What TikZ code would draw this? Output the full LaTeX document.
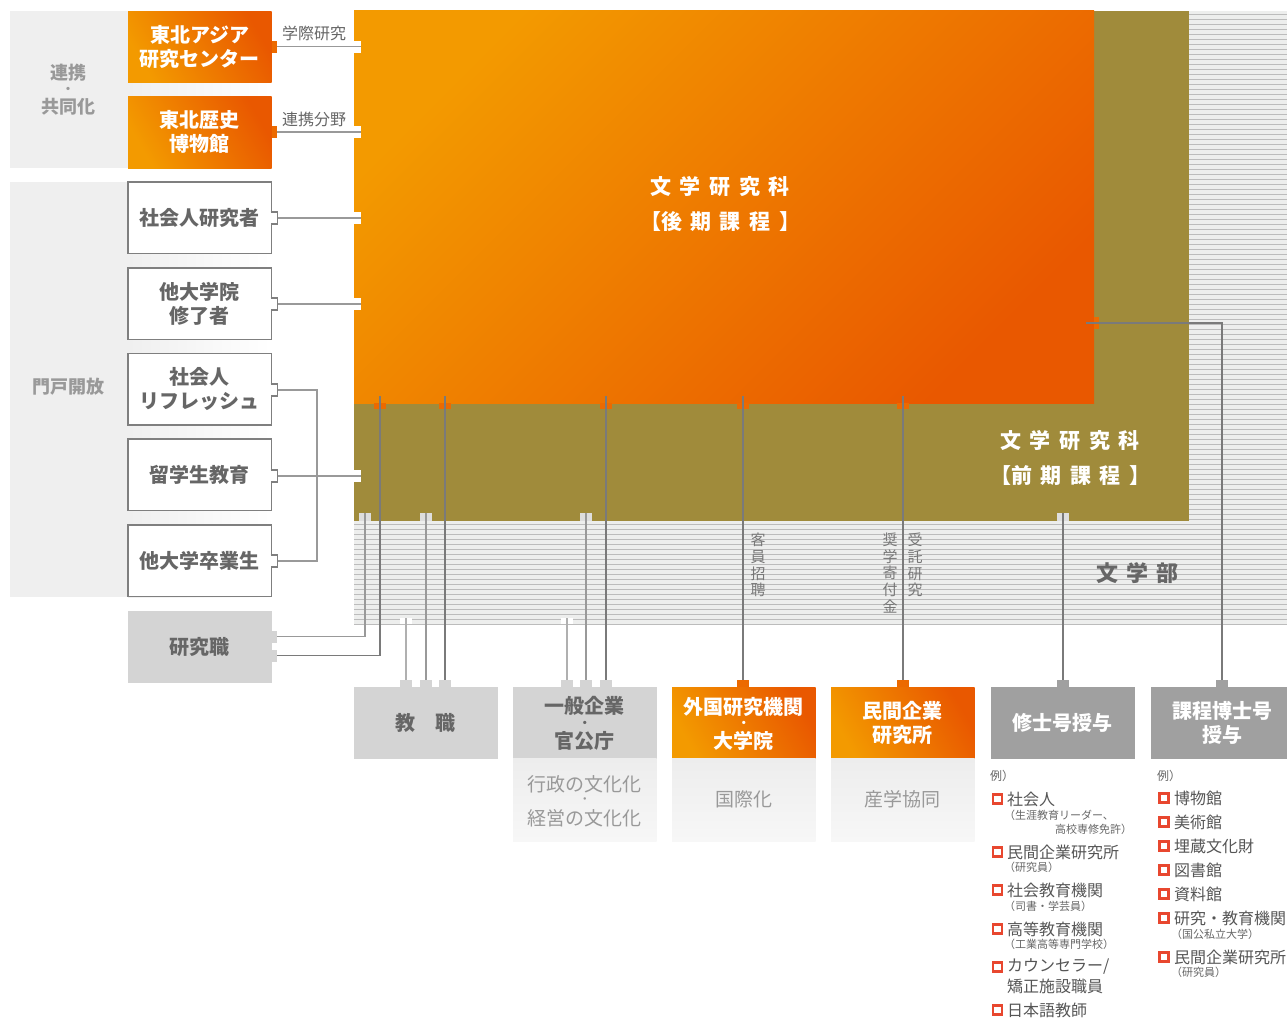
\documentclass[tikz,border=0pt]{standalone}
\usepackage{fontspec}
\setmainfont{Noto Sans CJK JP}
\usetikzlibrary{calc}
\definecolor{ogA}{HTML}{F39A00}
\definecolor{ogB}{HTML}{E95800}
\definecolor{ogT}{HTML}{EC6A00}
\definecolor{olv}{HTML}{A08B3B}
\definecolor{pnl}{HTML}{EFEFEF}
\definecolor{stbg}{HTML}{EDEEED}
\definecolor{stln}{HTML}{BCBCBC}
\definecolor{tdark}{HTML}{666666}
\definecolor{tmid}{HTML}{777777}
\definecolor{tlist}{HTML}{555555}
\definecolor{tlight}{HTML}{999999}
\definecolor{bxg}{HTML}{D4D4D4}
\definecolor{bxd}{HTML}{A0A0A0}
\definecolor{bord}{HTML}{7F7F7F}
\definecolor{cdark}{HTML}{7A7A7A}
\definecolor{cmid}{HTML}{999999}
\definecolor{clight}{HTML}{B0B0B0}
\definecolor{redsq}{HTML}{E8472F}
\definecolor{tabl}{HTML}{DEDEDE}
\definecolor{subA}{HTML}{EDEDED}
\definecolor{subB}{HTML}{F7F7F7}
\newcommand{\jg}{\hspace{8.5pt}}
\newcommand{\jgs}{\hspace{8pt}}
\begin{document}
\begin{tikzpicture}[x=1pt,y=-1pt,
  every node/.style={inner sep=0pt,outer sep=0pt},
  bx/.style={minimum width=143.5pt,minimum height=71.5pt,anchor=north west,align=center,font=\fontsize{20}{24}\selectfont\bfseries},
  bt/.style={font=\fontsize{20}{24}\selectfont\bfseries},
  bdot/.style={font=\fontsize{12}{12}\selectfont\bfseries},
  obox/.style={text=white,left color=ogA,right color=ogB,shading angle=120},
  wbox/.style={text=tdark,fill=white,draw=bord,line width=1.5pt},
  gbox/.style={text=tdark,fill=bxg},
  dbox/.style={text=white,fill=bxd},
  sbox/.style={minimum width=143.5pt,minimum height=83pt,anchor=north west,align=center,top color=subA,bottom color=subB,text=tlight,font=\fontsize{19}{17}\selectfont},
  rtab/.style={minimum width=5.5pt,minimum height=12pt},
  wtab/.style={fill=white,minimum width=6.8pt,minimum height=12pt},
  btab/.style={minimum width=12pt,minimum height=7pt},
  otab/.style={fill=ogT,minimum width=12pt,minimum height=6pt},
  ltab/.style={fill=tabl,minimum width=12pt,minimum height=8pt},
  wnotch/.style={fill=white,minimum width=12pt,minimum height=6pt},
  lnotch/.style={fill=white,minimum width=7pt,minimum height=12pt},
  cn/.style={draw=cdark,line width=1.2pt},
  cnm/.style={draw=cmid,line width=1.5pt},
  cnl/.style={draw=clight,line width=2pt},
  lcn/.style={draw=cmid,line width=1.4pt},
  sidelbl/.style={text=tlight,align=center,font=\fontsize{18}{17}\selectfont\bfseries},
  clbl/.style={text=tdark,font=\fontsize{16}{18}\selectfont},
  vlbl/.style={text=tmid,align=center,font=\fontsize{15}{16.6}\selectfont},
  ttl/.style={text=white,align=center,font=\fontsize{21}{35}\selectfont\bfseries},
  li/.style={anchor=west,text=tlist,font=\fontsize{16}{18}\selectfont},
  lsub/.style={anchor=west,text=tdark,font=\fontsize{11}{12}\selectfont},
  rsq/.style={draw=redsq,line width=2.2pt,minimum width=9pt,minimum height=9pt},
]
\lineskiplimit=-100pt
\useasboundingbox (0,0) rectangle (1287,1017);

% ---------- left panels
\fill[pnl] (10,11) rectangle (128,168);
\shade[left color=pnl,right color=white] (128,11) rectangle (271,168);
\fill[pnl] (10,182) rectangle (128,597);
\shade[left color=pnl,right color=white] (128,182) rectangle (271,597);
\node[sidelbl] (renkei) at (68,73) {連携};
\node[sidelbl,font=\fontsize{12}{12}\selectfont\bfseries] (renkeidot) at (68,90) {・};
\node[sidelbl] (kyodo) at (68,107) {共同化};
\node[sidelbl] (monko) at (68,387) {門戸開放};

% ---------- 文学部 (striped)
\fill[stbg] (354,11) rectangle (1290,624.5);
\foreach \yy in {14,19,...,624} \draw[stln,line width=0.9pt] (354,\yy) -- (1290,\yy);
\node[minimum width=933pt,minimum height=613pt,anchor=north west] (gakubu) at (354,11) {};
\node[text=tdark,font=\fontsize{22}{24}\selectfont\bfseries] (gakubut) at (1137,573) {文\jgs 学\jgs 部};

% ---------- 前期課程 (olive)
\node[fill=olv,minimum width=835pt,minimum height=510pt,anchor=north west] (zenki) at (354,11) {};
\node[ttl] (zenkit) at (1070,457.5) {文\jg 学\jg 研\jg 究\jg 科\\【前\jg 期\jg 課\jg 程\jg 】};

% ---------- 後期課程 (orange)
\node[top color=ogA,bottom color=ogB,shading angle=45,minimum width=740pt,minimum height=393.5pt,anchor=north west] (kouki) at (354,10) {};
\node[ttl] (koukit) at (720,204.5) {文\jg 学\jg 研\jg 究\jg 科\\【後\jg 期\jg 課\jg 程\jg 】};

% notches on left edge of orange / olive
\node[lnotch] (n1) at (357.5,46.5) {};
\node[lnotch] (n2) at (357.5,132) {};
\node[lnotch] (n3) at (357.5,218) {};
\node[lnotch] (n4) at (357.5,304) {};
\node[lnotch] (n6) at (357.5,476) {};

% orange tabs at bottom of orange
\node[otab] (o1) at (380,406) {};
\node[otab] (o2) at (445,406) {};
\node[otab] (o3) at (606,406) {};
\node[otab] (o4) at (743,406) {};
\node[otab] (o5) at (903,406) {};
\node[fill=ogT,minimum width=5pt,minimum height=12pt] (o6) at (1096.5,323) {};
\coordinate (k1) at (380,396);
\coordinate (k2) at (445,396);
\coordinate (k3) at (606,396);
\coordinate (k4) at (743,396);
\coordinate (k5) at (903,396);
\coordinate (k6) at (1086,323);

% light tabs at bottom of olive
\node[ltab] (l1) at (365,517) {};
\node[ltab] (l2) at (426,517) {};
\node[ltab] (l3) at (586,517) {};
\node[ltab] (l4) at (1063,517) {};

% white notches at bottom of 文学部
\node[wnotch] (w1) at (406,621) {};
\node[wnotch] (w2) at (567,621) {};

% ---------- left boxes
\node[bx,obox] (b1) at (128,11) {東北アジア\\研究センター};
\node[bx,obox] (b2) at (128,96.5) {東北歴史\\博物館};
\node[rtab,fill=ogT] (t1) at (274.25,46.5) {};
\node[rtab,fill=ogT] (t2) at (274.25,132) {};

\node[bx,wbox] (b3) at (128,182) {社会人研究者};
\node[bx,wbox] (b4) at (128,268) {他大学院\\修了者};
\node[bx,wbox] (b5) at (128,353.5) {社会人\\リフレッシュ};
\node[bx,wbox] (b6) at (128,439) {留学生教育};
\node[bx,wbox] (b7) at (128,525) {他大学卒業生};
\foreach \nm/\yy in {t3/218,t4/304,t5/390,t6/476,t7/561}{
  \node[wtab] (\nm) at (274.1,\yy) {};
  \draw[bord,line width=1.5pt] (\nm.north west) -- (\nm.north east) -- (\nm.south east) -- (\nm.south west);
}
\node[bx,gbox] (b8) at (128,611) {研究職};
\node[rtab,fill=bxg] (t8a) at (274.25,636.5) {};
\node[rtab,fill=bxg] (t8b) at (274.25,655.7) {};

% ---------- left connectors
\draw[lcn] (t1.east) -- (n1.east);
\draw[lcn] (t2.east) -- (n2.east);
\node[clbl,anchor=south] (lbl1) at (314,41) {学際研究};
\node[clbl,anchor=south] (lbl2) at (314,126.5) {連携分野};
\draw[lcn] (t3.east) -- (n3.east);
\draw[lcn] (t4.east) -- (n4.east);
\coordinate (brk) at (317,390);
\draw[lcn] (t5.east) -- (brk) |- (t7.east);
\draw[lcn] (t6.east) -- (n6.east);
\draw[cnm] (t8a.east) -| (l1.north);
\draw[cn] (t8b.east) -| (k1);

% ---------- bottom boxes
\node[bx,gbox] (c1) at (354,687) {教\hspace{20pt}職};
\node[bx,gbox] (c2) at (513,687) {};
\node[bt,text=tdark] (c2a) at (584.75,706) {一般企業};
\node[bdot,text=tdark] (c2b) at (584.75,724) {・};
\node[bt,text=tdark] (c2c) at (584.75,741) {官公庁};
\node[bx,obox] (c3) at (672,687) {};
\node[bt,text=white] (c3a) at (743.75,707) {外国研究機関};
\node[bdot,text=white] (c3b) at (743.75,724.5) {・};
\node[bt,text=white] (c3c) at (743.75,741) {大学院};
\node[bx,obox] (c4) at (831,687) {民間企業\\研究所};
\node[bx,dbox] (c5) at (991,687) {修士号授与};
\node[bx,dbox] (c6) at (1151,687) {課程博士号\\授与};

\node[sbox] (s2) at (513,758) {};
\node[text=tlight,font=\fontsize{19}{20}\selectfont] (s2a) at (584.75,784) {行政の文化化};
\node[text=tlight,font=\fontsize{12}{12}\selectfont] (s2b) at (584.75,801) {・};
\node[text=tlight,font=\fontsize{19}{20}\selectfont] (s2c) at (584.75,818) {経営の文化化};
\node[sbox] (s3) at (672,758) {国際化};
\node[sbox] (s4) at (831,758) {産学協同};

% top tabs of bottom boxes
\node[btab,fill=bxg] (u1) at (406,683.5) {};
\node[btab,fill=bxg] (u2) at (426,683.5) {};
\node[btab,fill=bxg] (u3) at (445,683.5) {};
\node[btab,fill=bxg] (u4) at (567,683.5) {};
\node[btab,fill=bxg] (u5) at (586,683.5) {};
\node[btab,fill=bxg] (u6) at (606,683.5) {};
\node[btab,fill=ogT] (u7) at (743,683.5) {};
\node[btab,fill=ogT] (u8) at (903,683.5) {};
\node[btab,fill=bxd] (u9) at (1063,683.5) {};
\node[btab,fill=bxd] (u10) at (1222,683.5) {};

% ---------- bottom connectors
\draw[cnl] (w1.north) -- (u1.north);
\draw[cnm] (l2.north) -- (u2.north);
\draw[cn] (k2) -- (u3.north);
\draw[cnl] (w2.north) -- (u4.north);
\draw[cnm] (l3.north) -- (u5.north);
\draw[cn] (k3) -- (u6.north);
\draw[cn] (k4) -- (u7.north);
\draw[cn] (k5) -- (u8.north);
\draw[cn] (l4.north) -- (u9.north);
\draw[cn] (k6) -| (u10.north);

% vertical labels
\node[vlbl] (v1) at (758,565) {客\\員\\招\\聘};
\node[vlbl] (v2) at (890,573) {奨\\学\\寄\\付\\金};
\node[vlbl] (v3) at (915,565) {受\\託\\研\\究};

% ---------- lists
\node[lsub,font=\fontsize{12}{12}\selectfont] (e1) at (990,776) {例）};
\node[rsq] (q11) at (997.5,799) {};   \node[li] (a11) at (1007,799) {社会人};
\node[lsub] (a11s) at (1004,815) {（生涯教育リーダー、};
\node[lsub,anchor=east] (a11t) at (1132,829) {高校専修免許）};
\node[rsq] (q12) at (997.5,852) {};   \node[li] (a12) at (1007,852) {民間企業研究所};
\node[lsub] (a12s) at (1004,867) {（研究員）};
\node[rsq] (q13) at (997.5,890) {};   \node[li] (a13) at (1007,890) {社会教育機関};
\node[lsub] (a13s) at (1004,906) {（司書・学芸員）};
\node[rsq] (q14) at (997.5,929) {};   \node[li] (a14) at (1007,929) {高等教育機関};
\node[lsub] (a14s) at (1004,944) {（工業高等専門学校）};
\node[rsq] (q15) at (997.5,967) {};   \node[li] (a15) at (1007,967) {カウンセラー/};
\node[li] (a15b) at (1007,986) {矯正施設職員};
\node[rsq] (q16) at (997.5,1010) {};  \node[li] (a16) at (1007,1010) {日本語教師};

\node[lsub,font=\fontsize{12}{12}\selectfont] (e2) at (1157,776) {例）};
\node[rsq] (q21) at (1164,798) {};   \node[li] (a21) at (1174,798) {博物館};
\node[rsq] (q22) at (1164,822) {};   \node[li] (a22) at (1174,822) {美術館};
\node[rsq] (q23) at (1164,846) {};   \node[li] (a23) at (1174,846) {埋蔵文化財};
\node[rsq] (q24) at (1164,870) {};   \node[li] (a24) at (1174,870) {図書館};
\node[rsq] (q25) at (1164,894) {};   \node[li] (a25) at (1174,894) {資料館};
\node[rsq] (q26) at (1164,918) {};   \node[li] (a26) at (1174,918) {研究・教育機関};
\node[lsub] (a26s) at (1171,934) {（国公私立大学）};
\node[rsq] (q27) at (1164,957) {};   \node[li] (a27) at (1174,957) {民間企業研究所};
\node[lsub] (a27s) at (1171,972) {（研究員）};
\end{tikzpicture}
\end{document}
